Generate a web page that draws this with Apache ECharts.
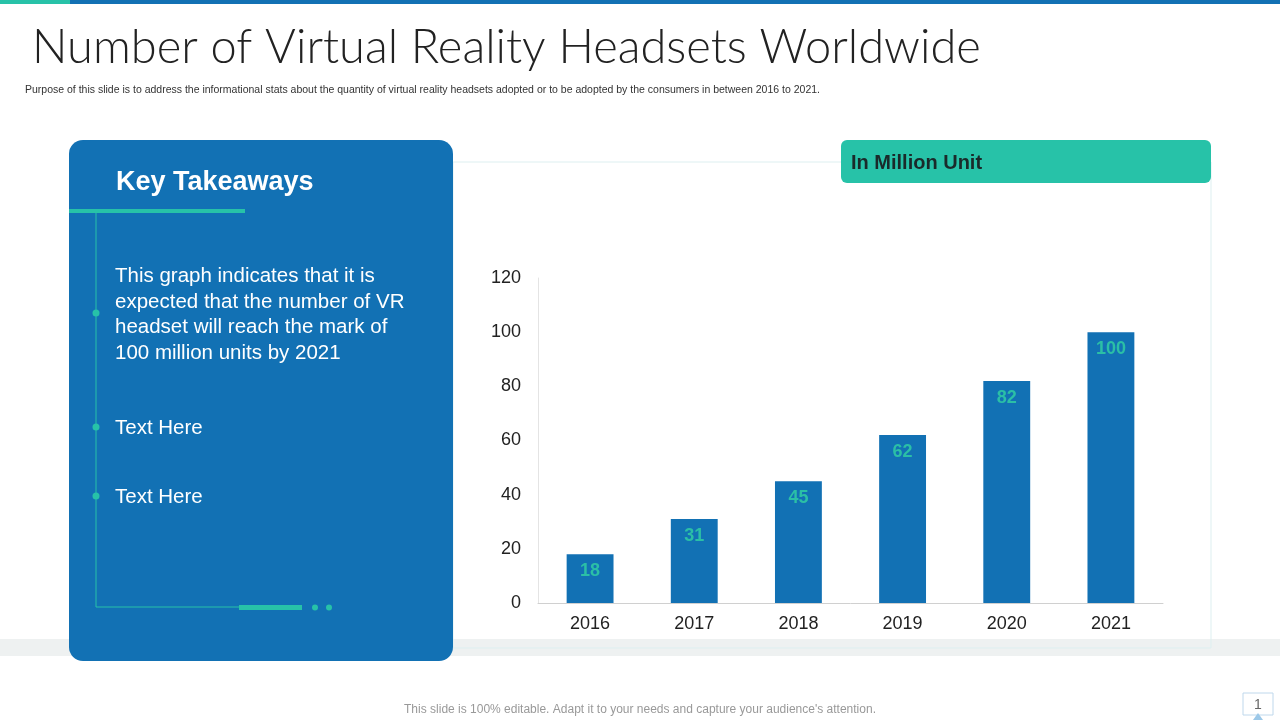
<!DOCTYPE html>
<html><head><meta charset="utf-8">
<script src="https://cdn.jsdelivr.net/npm/echarts@6/dist/echarts.min.js"></script>
<style>html,body{margin:0;padding:0;background:#fff}#c{width:1280px;height:720px}</style>
</head><body><div id="c"></div>
<script>
const categories = ['2016','2017','2018','2019','2020','2021'];
const values = [18, 31, 45, 62, 82, 100];
const yTicks = [0, 20, 40, 60, 80, 100, 120];
const title = 'Number of Virtual Reality Headsets Worldwide';
const subtitle = 'Purpose of this slide is to address the informational stats about the quantity of virtual reality headsets adopted or to be adopted by the consumers in between 2016 to 2021.';
const takeaways = ['This graph indicates that it is\nexpected that the number of VR\nheadset will reach the mark of\n100 million units by 2021', 'Text Here', 'Text Here'];
const footer = "This slide is 100% editable. Adapt it to your needs and capture your audience's attention.";

const BLUE = '#1271B4', TEAL = '#27C2A8', TEAL2 = '#2BBFA6';
const chart = echarts.init(document.getElementById('c'));
const g = [
  {type:'rect', shape:{x:0,y:0,width:1280,height:4}, style:{fill:'#1271B4'}},
  {type:'rect', shape:{x:0,y:0,width:70,height:4}, style:{fill:TEAL}},
  {type:'text', x:32, y:48, style:{text:title, font:'300 47px Lato, "Open Sans", sans-serif', fill:'#222', textVerticalAlign:'middle'}},
  {type:'text', x:25, y:90, style:{text:subtitle, font:'10.5px "Liberation Sans", Arial, sans-serif', fill:'#333', textVerticalAlign:'middle'}},
  {type:'rect', shape:{x:0,y:639,width:1280,height:17}, style:{fill:'#EEF1F1'}},
  {type:'rect', shape:{x:453,y:162,width:758,height:486}, style:{fill:'none', stroke:'#DDEFF0', lineWidth:1}},
  {type:'rect', shape:{x:841,y:140,width:370,height:43,r:6}, style:{fill:TEAL}},
  {type:'text', x:851, y:163, style:{text:'In Million Unit', font:'bold 20px "Liberation Sans", Arial, sans-serif', fill:'#1a2a2a', textVerticalAlign:'middle'}},
  {type:'rect', shape:{x:69,y:140,width:384,height:521,r:14}, style:{fill:BLUE}},
  {type:'text', x:116, y:183, style:{text:'Key Takeaways', font:'bold 27px "Liberation Sans", Arial, sans-serif', fill:'#fff', textVerticalAlign:'middle'}},
  {type:'rect', shape:{x:69,y:209,width:176,height:4}, style:{fill:TEAL}},
  {type:'polyline', shape:{points:[[96,213],[96,607],[240,607]]}, style:{stroke:TEAL, lineWidth:1, fill:'none'}},
  {type:'rect', shape:{x:239,y:605,width:63,height:5}, style:{fill:TEAL}},
  {type:'circle', shape:{cx:315,cy:607.5,r:3}, style:{fill:TEAL}},
  {type:'circle', shape:{cx:329,cy:607.5,r:3}, style:{fill:TEAL}},
  {type:'circle', shape:{cx:96,cy:313,r:3.5}, style:{fill:TEAL}},
  {type:'circle', shape:{cx:96,cy:427,r:3.5}, style:{fill:TEAL}},
  {type:'circle', shape:{cx:96,cy:496,r:3.5}, style:{fill:TEAL}},
  {type:'text', x:115, y:264, style:{text:takeaways[0], font:'20.5px "Liberation Sans", Arial, sans-serif', lineHeight:25.5, fill:'#fff', textVerticalAlign:'top'}},
  {type:'text', x:115, y:428, style:{text:takeaways[1], font:'20.5px "Liberation Sans", Arial, sans-serif', fill:'#fff', textVerticalAlign:'middle'}},
  {type:'text', x:115, y:497, style:{text:takeaways[2], font:'20.5px "Liberation Sans", Arial, sans-serif', fill:'#fff', textVerticalAlign:'middle'}},
  {type:'text', x:640, y:710, style:{text:footer, font:'12px "Liberation Sans", Arial, sans-serif', fill:'#999', textAlign:'center', textVerticalAlign:'middle'}},
  {type:'rect', shape:{x:1243,y:693,width:30,height:22}, style:{fill:'#fff', stroke:'#BFD8EC', lineWidth:1}},
  {type:'text', x:1258, y:705, style:{text:'1', font:'14px "Liberation Sans", Arial, sans-serif', fill:'#666', textAlign:'center', textVerticalAlign:'middle'}},
  {type:'polygon', shape:{points:[[1253,720],[1258,713],[1263,720]]}, style:{fill:'#9CC8E8'}}
];
chart.setOption({
  animation:false,
  graphic:{elements:g},
  grid:{left:538, right:117, top:278, bottom:117},
  xAxis:{type:'category', data:categories,
    axisLine:{lineStyle:{color:'#D0D0D0'}}, axisTick:{show:false},
    axisLabel:{color:'#222', fontSize:18, margin:12, fontFamily:'"Liberation Sans", Arial, sans-serif'}},
  yAxis:{type:'value', min:yTicks[0], max:yTicks[yTicks.length-1], interval:20,
    axisLine:{show:true, lineStyle:{color:'#E4E4E4'}}, axisTick:{show:false}, splitLine:{show:false},
    axisLabel:{color:'#222', fontSize:18, margin:17, fontFamily:'"Liberation Sans", Arial, sans-serif'}},
  series:[{type:'bar', data:values, barWidth:'45%', itemStyle:{color:BLUE},
    label:{show:true, position:'insideTop', distance:8, color:TEAL2, fontSize:18, fontWeight:'bold', fontFamily:'"Liberation Sans", Arial, sans-serif'}}]
});
</script></body></html>
